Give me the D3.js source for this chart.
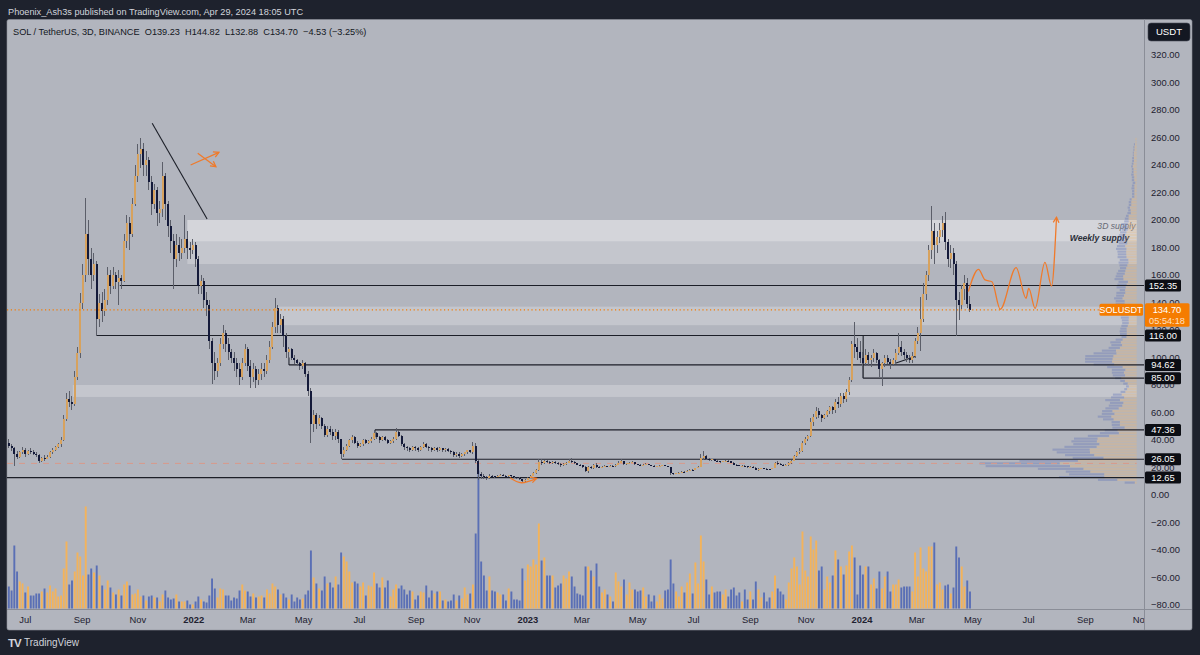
<!DOCTYPE html>
<html lang="en">
<head>
<meta charset="UTF-8">
<title>SOL / TetherUS, 3D, BINANCE</title>
<script src="https://d3js.org/d3.v7.min.js"></script>
<style>
  body { margin: 0; background: #1e222d; }
  svg { display: block; }
  text { font-family: "Liberation Sans", Arial, sans-serif; }
</style>
</head>
<body>
<script>
var W = 1200, H = 655;

// ---- data: SOL/USDT 3D candles (Jun 13 2021 -> Apr 28 2024) ----
var firstBar = Date.UTC(2021, 5, 13);
var barDays = 3;
var firstOpen = 38;
var closes = [
  36, 34, 30, 28, 31, 33, 30, 32, 31, 30, 29, 25, 27, 26, 28, 31, 33,
  35, 37, 40, 55, 70, 68, 66, 86, 103, 140, 160, 190,
  172, 160, 168, 128, 140, 134, 142, 160, 152,
  160, 155, 158, 156, 185, 198, 190, 212, 232, 248, 252,
  240, 244, 228, 212, 222, 205, 208, 232, 212, 196, 185, 172,
  182, 176, 180, 186, 180, 178, 182, 172, 152, 156, 142, 138, 112,
  96, 90, 96, 110, 118, 110, 104, 100, 96, 92, 86, 96, 106, 94, 86, 92, 84,
  88, 92, 90, 98, 108, 122, 136, 124, 128, 116, 104,
  106, 100, 98, 96, 94, 96, 88, 76, 52, 58, 52, 56, 50, 44, 48, 46, 43, 46, 41,
  30, 33, 36, 40, 42, 38, 36, 37, 40, 38, 39, 41, 45, 42, 40, 42, 40, 38, 39, 41,
  46, 43, 37, 35, 34, 33, 35, 34, 33, 35, 37, 35, 34, 33, 34, 33, 34, 33, 33.5, 32, 31, 29, 30, 28.5, 29.5, 31, 32.5, 31.5, 36,
  25, 15.5, 14, 13, 12.5, 14, 13.5, 13, 14,
  14.5, 14, 13.6, 14.2, 13.5, 13, 12.5, 11.8, 10, 11, 12.5, 14, 16, 18, 24,
  23, 24.5, 24, 23.2, 24, 23.5, 22.5, 21.5, 22.5, 23.5, 25, 24, 23, 22, 21.5, 20.5, 17.5, 20.5, 19.5, 21.5, 20.5, 20,
  20.5, 21, 20.7, 21.2, 20.8, 22, 23.5, 24.5, 22.5, 23, 23.5, 24, 22.5, 22, 21.5, 22, 22.5, 21.8, 21.3, 20.8, 21, 21.3, 21.6, 21, 20.5,
  15.8, 15.2, 15.8, 16.3, 17, 16.6, 17.5, 18.5, 18.2, 19.5, 20.5, 27, 28.5, 26.5, 25.5,
  26, 25, 24.5, 24, 24.5, 25, 24.5, 23.5, 22, 21.5, 21, 21.4, 20.8, 20.3, 20.7, 20, 18.5, 19, 19.5, 19.2, 19, 18.7, 19.8, 23, 22.5, 22, 21.5, 22,
  23, 25, 28.5, 31, 32, 38, 41, 43, 53, 57, 61, 58, 56, 58, 61, 64, 62, 68, 66, 72, 70, 75, 84, 110, 108, 104, 100,
  96, 102, 98, 100, 103, 98, 92, 96, 100, 97, 95, 98, 103, 108, 104, 102, 100, 98, 101, 112,
  118, 128, 146, 160, 178, 192, 182, 188, 193, 198, 184, 172, 176, 168, 142, 138, 150, 154, 139.23, 134.70
];
var highs = [
  41, 37, 35, 32, 32, 35, 34, 33, 34, 33, 31, 30, 28, 29, 29, 32, 34,
  36, 38, 42, 58, 74, 76, 72, 90, 108, 147, 168, 216,
  200, 180, 176, 170, 146, 148, 150, 166, 164,
  166, 162, 164, 160, 190, 204, 202, 216, 240, 255, 260,
  256, 250, 246, 232, 226, 224, 214, 242, 234, 214, 200, 190,
  190, 188, 186, 204, 192, 184, 186, 184, 174, 160, 158, 148, 142,
  114, 104, 100, 114, 124, 120, 114, 106, 104, 100, 96, 100, 110, 108, 98, 96, 94,
  92, 96, 96, 102, 112, 126, 143, 138, 132, 130, 118,
  108, 107, 102, 99, 97, 98, 97, 90, 78, 62, 60, 58, 57, 52, 50, 50, 48, 48, 47,
  41, 35, 37, 41, 44, 43, 39, 38, 41, 41, 40, 42, 47.4, 46, 43, 43, 43, 41, 40, 42,
  48.5, 47, 44, 38, 36, 35, 36, 36, 35, 36, 38.5, 38, 36, 35, 35, 35, 35, 34.5, 34.5, 34, 33, 32, 31, 31, 30.5, 31.5, 33, 33, 38.5,
  38, 25.5, 16.5, 15, 14, 15, 14.5, 14, 14.5,
  15, 15, 14.3, 14.6, 14.4, 13.8, 13.2, 12.8, 12, 11.5, 13, 14.5, 17, 19, 26,
  26, 25.5, 25.5, 24.5, 24.5, 24.5, 24, 23, 23, 24, 26.5, 27, 24.5, 23.5, 22.5, 22, 21, 21, 21, 22.5, 23, 21,
  21, 21.5, 21.4, 21.6, 21.5, 22.5, 24.5, 26, 25, 23.5, 24, 24.5, 24.2, 22.8, 22.3, 22.4, 23, 22.8, 22, 21.5, 21.4, 21.8, 22, 21.8, 21.2,
  20.7, 16.2, 16.3, 16.8, 17.4, 17.3, 18, 19, 19.2, 20, 21, 30, 32, 29, 27,
  26.5, 26.3, 25.5, 25, 25, 25.5, 25.3, 24.8, 23.7, 22.4, 21.8, 21.7, 21.5, 21, 21, 20.8, 20.2, 19.3, 19.8, 19.8, 19.4, 19.2, 20, 23.7, 24.5, 23, 22.5, 22.6,
  23.8, 25.5, 29, 32, 34, 39, 42, 44, 56, 59, 64, 63, 59, 59, 62, 65, 65, 70, 71, 74, 74, 77, 86, 112, 126, 114, 112,
  104, 106, 104, 102, 106, 104, 99, 97, 102, 102, 99, 100, 106, 118, 112, 106, 104, 102, 104, 114,
  122, 144, 154, 163, 182, 210, 198, 192, 198, 203, 206, 186, 182, 180, 170, 148, 153, 160, 158, 144.82
];
var lows = [
  34, 32, 21, 26, 27, 30, 28, 29, 30, 29, 28, 23, 24, 25, 26, 27, 30,
  32, 34, 35, 39, 54, 64, 62, 65, 84, 100, 135, 155,
  160, 150, 156, 116, 122, 126, 130, 138, 146,
  150, 150, 138, 150, 155, 180, 178, 188, 210, 228, 238,
  232, 232, 222, 204, 208, 196, 198, 202, 200, 188, 176, 150,
  166, 170, 172, 176, 172, 172, 175, 166, 146, 146, 136, 130, 106,
  81, 84, 86, 94, 106, 104, 98, 96, 90, 86, 80, 84, 94, 90, 78, 82, 78,
  80, 84, 86, 88, 96, 106, 118, 118, 118, 108, 100,
  94.6, 98, 95, 94, 91, 92, 86, 72, 38, 46, 48, 50, 48, 42, 42, 44, 40, 40, 38,
  26, 28, 32, 35, 38, 37, 34, 35, 36, 37, 37, 38, 40, 41, 38, 39, 39, 37, 37, 38,
  40, 42, 36, 33, 32, 31, 32, 32, 31, 32, 34, 34, 32, 31, 32, 31, 32, 31.5, 31.5, 31, 29.5, 28, 28, 27, 28, 28.5, 29.5, 30.5, 30,
  23, 11, 12, 11.5, 11, 12, 13, 12.5, 12.8,
  13.5, 13.5, 13.2, 13.4, 13, 12.5, 11.8, 11.2, 8.5, 9.8, 10.8, 12.3, 13.8, 15.5, 17.5,
  21.5, 22.5, 23, 22.5, 22.8, 22.8, 21.8, 20.5, 21, 22, 23, 23.5, 22.5, 21.5, 20.8, 20, 16.5, 16, 19, 19.2, 19.8, 19.5,
  19.6, 20.2, 20.3, 20.5, 20.4, 20.5, 21.8, 23.3, 22, 22, 22.8, 23.2, 22, 21.7, 21, 21.2, 21.8, 21.5, 21, 20.5, 20.5, 20.8, 21, 20.8, 20.2,
  14.5, 14.3, 15, 15.6, 16.1, 16.2, 16.4, 17.3, 17.8, 18, 19.3, 20.3, 25.5, 25.5, 24.8,
  25, 24.5, 24, 23.5, 23.7, 24, 24.2, 23.2, 21.5, 21.2, 20.8, 20.6, 20.5, 20, 20, 19.8, 18, 17.4, 18.7, 19, 18.7, 18.5, 18.6, 19.6, 22, 21.5, 21, 21.2,
  21.2, 22.5, 24.5, 27.5, 30, 31, 36.5, 39.5, 42, 50, 55, 56, 53, 55, 57, 59, 59, 60, 63, 64, 67, 68, 73, 82, 100, 98, 96,
  85, 94, 94, 93, 97, 96, 86, 79, 93, 95, 92, 94, 96, 102, 101, 99, 97, 96, 96, 100,
  110, 105, 126, 142, 156, 172, 168, 176, 183, 188, 178, 166, 165, 160, 116, 127, 135, 142, 136, 132.88
];
var volumes = [
  22, 18, 63, 37, 27, 25, 16, 22, 13, 13,
  15, 15, 17, 20, 16, 23, 17, 20, 12, 13,
  40, 67, 24, 28, 37, 56, 52, 33, 102, 34,
  40, 36, 43, 33, 23, 19, 28, 21, 16, 14,
  19, 13, 24, 27, 23, 14, 15, 19, 12, 13,
  8, 12, 13, 11, 11, 7, 14, 18, 11, 9,
  10, 14, 7, 7, 7, 8, 4, 4, 7, 12,
  9, 7, 6, 13, 30, 20, 11, 20, 19, 13,
  13, 8, 11, 10, 18, 24, 18, 17, 12, 15,
  11, 12, 13, 11, 19, 15, 25, 22, 19, 14,
  15, 11, 9, 14, 7, 11, 9, 10, 14, 18,
  58, 31, 25, 20, 18, 32, 25, 26, 21, 32,
  24, 56, 52, 47, 37, 26, 27, 25, 22, 26,
  13, 23, 22, 36, 25, 21, 31, 21, 28, 12,
  19, 24, 20, 23, 19, 14, 18, 17, 9, 13,
  17, 16, 23, 11, 18, 15, 17, 17, 8, 9,
  7, 8, 14, 8, 13, 10, 21, 14, 15, 24,
  75, 138, 47, 33, 18, 32, 18, 17, 16,
  14, 14, 8, 20, 17, 9, 9, 8, 40, 28, 44,
  42, 49, 44, 85, 48, 51, 33, 33, 33, 21,
  23, 25, 33, 30, 37, 32, 22, 15, 14, 13,
  42, 42, 38, 32, 45, 22, 16, 19, 14, 12,
  7, 36, 27, 22, 29, 14, 26, 19, 19, 17,
  18, 21, 12, 14, 7, 13, 7, 14, 10, 18,
  19, 49, 25, 17, 12, 22, 16, 26, 35, 15,
  46, 25, 73, 47, 29, 14, 22, 16, 17, 17,
  14, 19, 12, 19, 21, 13, 16, 7, 19, 9,
  17, 9, 27, 19, 11, 16, 7, 11, 17, 33,
  20, 17, 14, 9, 26, 40, 51, 42, 24, 77,
  38, 32, 72, 59, 68, 38, 42, 19, 32, 26,
  33, 58, 49, 42, 34, 43, 57, 63, 51, 14,
  43, 34, 42, 42, 24, 30, 20, 37, 20, 32,
  37, 17, 24, 24, 29, 21, 22, 22, 22, 17,
  56, 32, 61, 40, 37, 62, 62, 66, 24, 26,
  19, 23, 24, 15, 21, 62, 51, 42, 22, 28,
  17
];

// axis ticks
var priceTicks = [-80, -60, -40, -20, 0, 20, 40, 60, 80, 100, 120, 140, 160, 180, 200, 220, 240, 260, 280, 300, 320];
var timeTicks = ["2021-07-01", "2021-09-01", "2021-11-01", "2022-01-01", "2022-03-01", "2022-05-01",
  "2022-07-01", "2022-09-01", "2022-11-01", "2023-01-01", "2023-03-01", "2023-05-01", "2023-07-01",
  "2023-09-01", "2023-11-01", "2024-01-01", "2024-03-01", "2024-05-01", "2024-07-01", "2024-09-01", "2024-11-01"];

// drawings (bar index, price)
var levels = [
  {price: 152.35, from: 40.4},
  {price: 116.00, from: 32},
  {price: 94.62, from: 102, tickTo: 100},
  {price: 85.00, from: 311.1, tickTo: 116},
  {price: 47.36, from: 133.3, tickTo: 42},
  {price: 26.05, from: 121.3},
  {price: 12.65, from: -1}
];
var zones = [
  {top: 200, bottom: 168, from: 65, to: 410.7},
  {top: 200, bottom: 184.5, from: 65, to: 410.7},
  {top: 137, bottom: 123.5, from: 97.6, to: 410.7},
  {top: 80, bottom: 71.3, from: 23.3, to: 410.7}
];
var trendLines = [
  [[52.2, 270.3], [72.2, 200.7]],
  [[322.8, 95.8], [330, 100.7]]
];
var projection = [[349.4, 147.9], [353.1, 164.1], [355.5, 156.4], [358.0, 155.1], [361.0, 135.1],
  [366.8, 165.4], [370.4, 143.1], [371.4, 150.3], [373.7, 135.8], [377.3, 169.2], [379.7, 152], [381.5, 202]];
var bottomCurve = [[182.5, 12.6], [186.7, 8.9], [192.2, 12.1]];
var crossArrows = [
  [[66.2, 240], [76.5, 249.2]],
  [[68.8, 248.5], [75.4, 238.8]]
];

// ---- scales ----
function barDate(i) { return new Date(firstBar + i * barDays * 864e5); }
var pane = {left: 7, right: 1144, top: 19.5, bottom: 609};
var x = d3.scaleUtc().domain([new Date(Date.UTC(2021, 5, 11)), new Date(Date.UTC(2024, 10, 3))]).range([7, 1143]);
var y = d3.scaleLinear().domain([0, 320]).range([495, 55]);
var vy = d3.scaleLinear().domain([0, 138]).range([608.5, 470.5]);
function bx(i) { return x(barDate(i)); }

var bars = closes.map(function(c, i) {
  var o = i === 0 ? firstOpen : closes[i - 1];
  return {i: i, o: o, c: c, h: Math.max(highs[i], o, c), l: Math.min(lows[i], o, c), v: volumes[i], up: c >= o};
});

var svg = d3.select("body").append("svg").attr("width", W).attr("height", H);
svg.append("rect").attr("width", W).attr("height", H).attr("fill", "#1e222d");

svg.append("text").attr("x", 8).attr("y", 15.3)
  .attr("font-size", 9.2).attr("fill", "#d1d4dc")
  .text("Phoenix_Ash3s published on TradingView.com, Apr 29, 2024 18:05 UTC");

svg.append("rect").attr("x", 7).attr("y", 19.5).attr("width", 1185).attr("height", 610.5)
  .attr("rx", 2).attr("fill", "#b2b5be").attr("stroke", "#8d909a").attr("stroke-width", 0.6);

svg.append("clipPath").attr("id", "pane").append("rect")
  .attr("x", pane.left).attr("y", pane.top).attr("width", pane.right - pane.left).attr("height", pane.bottom - pane.top);
var g = svg.append("g").attr("clip-path", "url(#pane)");

// zones
g.selectAll("rect.zone").data(zones).enter().append("rect")
  .attr("x", function(d) { return bx(d.from); })
  .attr("width", function(d) { return bx(d.to) - bx(d.from); })
  .attr("y", function(d) { return y(d.top); })
  .attr("height", function(d) { return y(d.bottom) - y(d.top); })
  .attr("fill", "#ffffff").attr("fill-opacity", function(d, i) { return i === 1 ? 0.27 : 0.24; });

g.append("text").attr("x", bx(410.3)).attr("y", y(193.5)).attr("text-anchor", "end")
  .attr("font-size", 8.6).attr("font-style", "italic").attr("fill", "#676a75").text("3D supply");
g.append("text").attr("x", bx(408)).attr("y", y(185)).attr("text-anchor", "end")
  .attr("font-size", 8.6).attr("font-style", "italic").attr("font-weight", "bold").attr("fill", "#2a2e39").text("Weekly supply");

// visible range volume profile, built from the candles
var binSize = 2;
var bins = d3.range(0, 264, binSize).map(function(lo) { return {lo: lo, up: 0, down: 0}; });
bars.forEach(function(b) {
  var span = Math.max(b.h - b.l, 0.01);
  for (var k = Math.floor(b.l / binSize); k <= Math.floor(b.h / binSize) && k < bins.length; k++) {
    var ov = Math.min(b.h, (k + 1) * binSize) - Math.max(b.l, k * binSize);
    if (ov <= 0 && span > 0.01) continue;
    var share = b.v * Math.max(ov, 0.01) / span;
    if (b.up) bins[k].up += share; else bins[k].down += share;
  }
});
var maxBin = d3.max(bins, function(d) { return d.up + d.down; });
var pw = d3.scalePow().exponent(0.75).domain([0, maxBin]).range([0, 157]);
var profRight = bx(410.7);
function upW(d) { return pw(d.up + d.down) * d.up / Math.max(d.up + d.down, 1e-9); }
var prof = g.append("g");
prof.selectAll("rect.pu").data(bins).enter().append("rect")
  .attr("x", function(d) { return profRight - upW(d); })
  .attr("width", upW)
  .attr("y", function(d) { return y(d.lo + binSize) + 0.3; })
  .attr("height", y(0) - y(binSize) - 0.6)
  .attr("fill", "#e9b676").attr("fill-opacity", 0.36);
prof.selectAll("rect.pd").data(bins).enter().append("rect")
  .attr("x", function(d) { return profRight - pw(d.up + d.down); })
  .attr("width", function(d) { return pw(d.up + d.down) - upW(d); })
  .attr("y", function(d) { return y(d.lo + binSize) + 0.3; })
  .attr("height", y(0) - y(binSize) - 0.6)
  .attr("fill", "#5d72b8").attr("fill-opacity", 0.36);
var poc = bins.reduce(function(a, b) { return (b.up + b.down) > (a.up + a.down) ? b : a; });
g.append("line").attr("x1", pane.left).attr("x2", profRight)
  .attr("y1", y(poc.lo + binSize / 2)).attr("y2", y(poc.lo + binSize / 2))
  .attr("stroke", "#d9998a").attr("stroke-width", 1).attr("stroke-dasharray", "6,6");

// volume
g.selectAll("rect.vol").data(bars).enter().append("rect")
  .attr("x", function(d) { return bx(d.i) - 0.95; })
  .attr("width", 1.9)
  .attr("y", function(d) { return vy(d.v); })
  .attr("height", function(d) { return vy(0) - vy(d.v); })
  .attr("fill", function(d) { return d.up ? "#f3b35b" : "#5a6fb5"; });

// horizontal levels
levels.forEach(function(l) {
  g.append("line").attr("x1", bx(l.from)).attr("x2", pane.right)
    .attr("y1", y(l.price)).attr("y2", y(l.price))
    .attr("stroke", "#1c1f28").attr("stroke-width", 1.1);
  if (l.tickTo !== undefined) {
    g.append("line").attr("x1", bx(l.from)).attr("x2", bx(l.from))
      .attr("y1", y(l.price)).attr("y2", y(l.tickTo))
      .attr("stroke", "#1c1f28").attr("stroke-width", 1.1);
  }
});
trendLines.forEach(function(t) {
  g.append("line").attr("x1", bx(t[0][0])).attr("y1", y(t[0][1]))
    .attr("x2", bx(t[1][0])).attr("y2", y(t[1][1]))
    .attr("stroke", "#1c1f28").attr("stroke-width", 1.1);
});

// candles
var cg = g.append("g").attr("shape-rendering", "crispEdges");
cg.selectAll("line.wick").data(bars).enter().append("line")
  .attr("x1", function(d) { return bx(d.i); }).attr("x2", function(d) { return bx(d.i); })
  .attr("y1", function(d) { return y(d.h); }).attr("y2", function(d) { return y(d.l); })
  .attr("stroke", "#5b5e69").attr("stroke-width", 1);
cg.selectAll("rect.body").data(bars).enter().append("rect")
  .attr("x", function(d) { return bx(d.i) - 1; })
  .attr("width", 2)
  .attr("y", function(d) { return y(Math.max(d.o, d.c)); })
  .attr("height", function(d) { return Math.max(1, Math.abs(y(d.o) - y(d.c))); })
  .attr("fill", function(d) { return d.up ? "#d7a25e" : "#141a3a"; });

// orange sketches
var orange = "#f07a2a";
function arrowHead(p0, p1) {
  var a = Math.atan2(p1[1] - p0[1], p1[0] - p0[0]);
  var len = 6;
  var pts = [[p1[0] - len * Math.cos(a - 0.5), p1[1] - len * Math.sin(a - 0.5)], p1,
             [p1[0] - len * Math.cos(a + 0.5), p1[1] - len * Math.sin(a + 0.5)]];
  g.append("path").attr("d", d3.line()(pts)).attr("fill", "none")
    .attr("stroke", orange).attr("stroke-width", 1.3);
}
function px(p) { return [bx(p[0]), y(p[1])]; }
var projPts = projection.map(px);
g.append("path").attr("d", d3.line().curve(d3.curveMonotoneX)(projPts))
  .attr("fill", "none").attr("stroke", orange).attr("stroke-width", 1.3);
arrowHead(projPts[projPts.length - 2], projPts[projPts.length - 1]);
var curvePts = bottomCurve.map(px);
g.append("path").attr("d", d3.line().curve(d3.curveNatural)(curvePts))
  .attr("fill", "none").attr("stroke", orange).attr("stroke-width", 1.3);
arrowHead(curvePts[1], curvePts[2]);
crossArrows.forEach(function(a) {
  var p = a.map(px);
  g.append("path").attr("d", d3.line()(p)).attr("fill", "none").attr("stroke", orange).attr("stroke-width", 1.2);
  arrowHead(p[0], p[1]);
});

// last price line
var last = bars[bars.length - 1];
g.append("line").attr("x1", pane.left).attr("x2", 1099)
  .attr("y1", y(last.c)).attr("y2", y(last.c))
  .attr("stroke", "#f57c00").attr("stroke-width", 1.2).attr("stroke-dasharray", "1.2,2.6");

// legend
svg.append("text").attr("x", 13).attr("y", 34.5).attr("font-size", 9.2).attr("fill", "#131722")
  .style("white-space", "pre")
  .text("SOL / TetherUS, 3D, BINANCE  O" + last.o.toFixed(2) + "  H" + last.h.toFixed(2) +
        "  L" + last.l.toFixed(2) + "  C" + last.c.toFixed(2) + "  \u2212" + (last.o - last.c).toFixed(2) +
        " (\u2212" + ((last.o - last.c) / last.o * 100).toFixed(2) + "%)");

// price axis
svg.append("line").attr("x1", pane.right + 0.5).attr("x2", pane.right + 0.5).attr("y1", 19.5).attr("y2", 630)
  .attr("stroke", "#8a8d97").attr("stroke-width", 1);
svg.append("line").attr("x1", 7).attr("x2", 1192).attr("y1", pane.bottom + 0.5).attr("y2", pane.bottom + 0.5)
  .attr("stroke", "#8a8d97").attr("stroke-width", 1);
svg.selectAll("text.pt").data(priceTicks).enter().append("text")
  .attr("x", 1151).attr("y", function(d) { return y(d); }).attr("dy", "0.35em")
  .attr("font-size", 9.4).attr("fill", "#1e2130")
  .text(function(d) { return d < 0 ? "\u2212" + Math.abs(d).toFixed(2) : d.toFixed(2); });

var ub = svg.append("g");
ub.append("rect").attr("x", 1148).attr("y", 23).attr("width", 42).attr("height", 18).attr("rx", 3)
  .attr("fill", "#131722").attr("stroke", "#4a4e5c").attr("stroke-width", 0.6);
ub.append("text").attr("x", 1169).attr("y", 32).attr("dy", "0.35em").attr("text-anchor", "middle")
  .attr("font-size", 9.6).attr("fill", "#ffffff").text("USDT");

// level price badges
var bg = svg.append("g");
levels.forEach(function(l) {
  bg.append("rect").attr("x", 1145).attr("y", y(l.price) - 6).attr("width", 36).attr("height", 12)
    .attr("rx", 1.5).attr("fill", "#0c0e14");
  bg.append("text").attr("x", 1163).attr("y", y(l.price)).attr("dy", "0.35em").attr("text-anchor", "middle")
    .attr("font-size", 9.4).attr("fill", "#ffffff").text(l.price.toFixed(2));
});
bg.append("rect").attr("x", 1099.5).attr("y", y(last.c) - 6).attr("width", 43.5).attr("height", 12)
  .attr("rx", 1.5).attr("fill", "#f57c00");
bg.append("text").attr("x", 1121).attr("y", y(last.c)).attr("dy", "0.35em").attr("text-anchor", "middle")
  .attr("font-size", 9.2).attr("fill", "#ffffff").text("SOLUSDT");
bg.append("rect").attr("x", 1145).attr("y", y(last.c) - 6.5).attr("width", 44.5).attr("height", 23.5)
  .attr("rx", 1.5).attr("fill", "#f57c00");
bg.append("text").attr("x", 1167).attr("y", y(last.c)).attr("dy", "0.35em").attr("text-anchor", "middle")
  .attr("font-size", 9.4).attr("fill", "#ffffff").text(last.c.toFixed(2));
bg.append("text").attr("x", 1167).attr("y", y(last.c) + 10.5).attr("dy", "0.35em").attr("text-anchor", "middle")
  .attr("font-size", 9.2).attr("fill", "#ffe0c2").text("05:54:18");

// time axis
svg.append("clipPath").attr("id", "taxis").append("rect")
  .attr("x", pane.left).attr("y", pane.bottom).attr("width", pane.right - pane.left).attr("height", 22);
var fmtMonth = d3.utcFormat("%b"), fmtYear = d3.utcFormat("%Y");
svg.append("g").attr("clip-path", "url(#taxis)")
  .selectAll("text").data(timeTicks).enter().append("text")
  .attr("x", function(d) { return x(new Date(d)); }).attr("y", 619.5).attr("dy", "0.35em")
  .attr("text-anchor", "middle").attr("font-size", 9.4).attr("fill", "#1e2130")
  .attr("font-weight", function(d) { return new Date(d).getUTCMonth() === 0 ? "bold" : "normal"; })
  .text(function(d) { var t = new Date(d); return t.getUTCMonth() === 0 ? fmtYear(t) : fmtMonth(t); });

// footer logo
svg.append("text").attr("x", 8).attr("y", 646.5).attr("font-size", 11.5).attr("font-weight", "bold")
  .attr("fill", "#d1d4dc").attr("letter-spacing", -1).text("TV");
svg.append("text").attr("x", 24).attr("y", 646).attr("font-size", 10).attr("fill", "#d1d4dc").text("TradingView");
</script>
</body>
</html>
